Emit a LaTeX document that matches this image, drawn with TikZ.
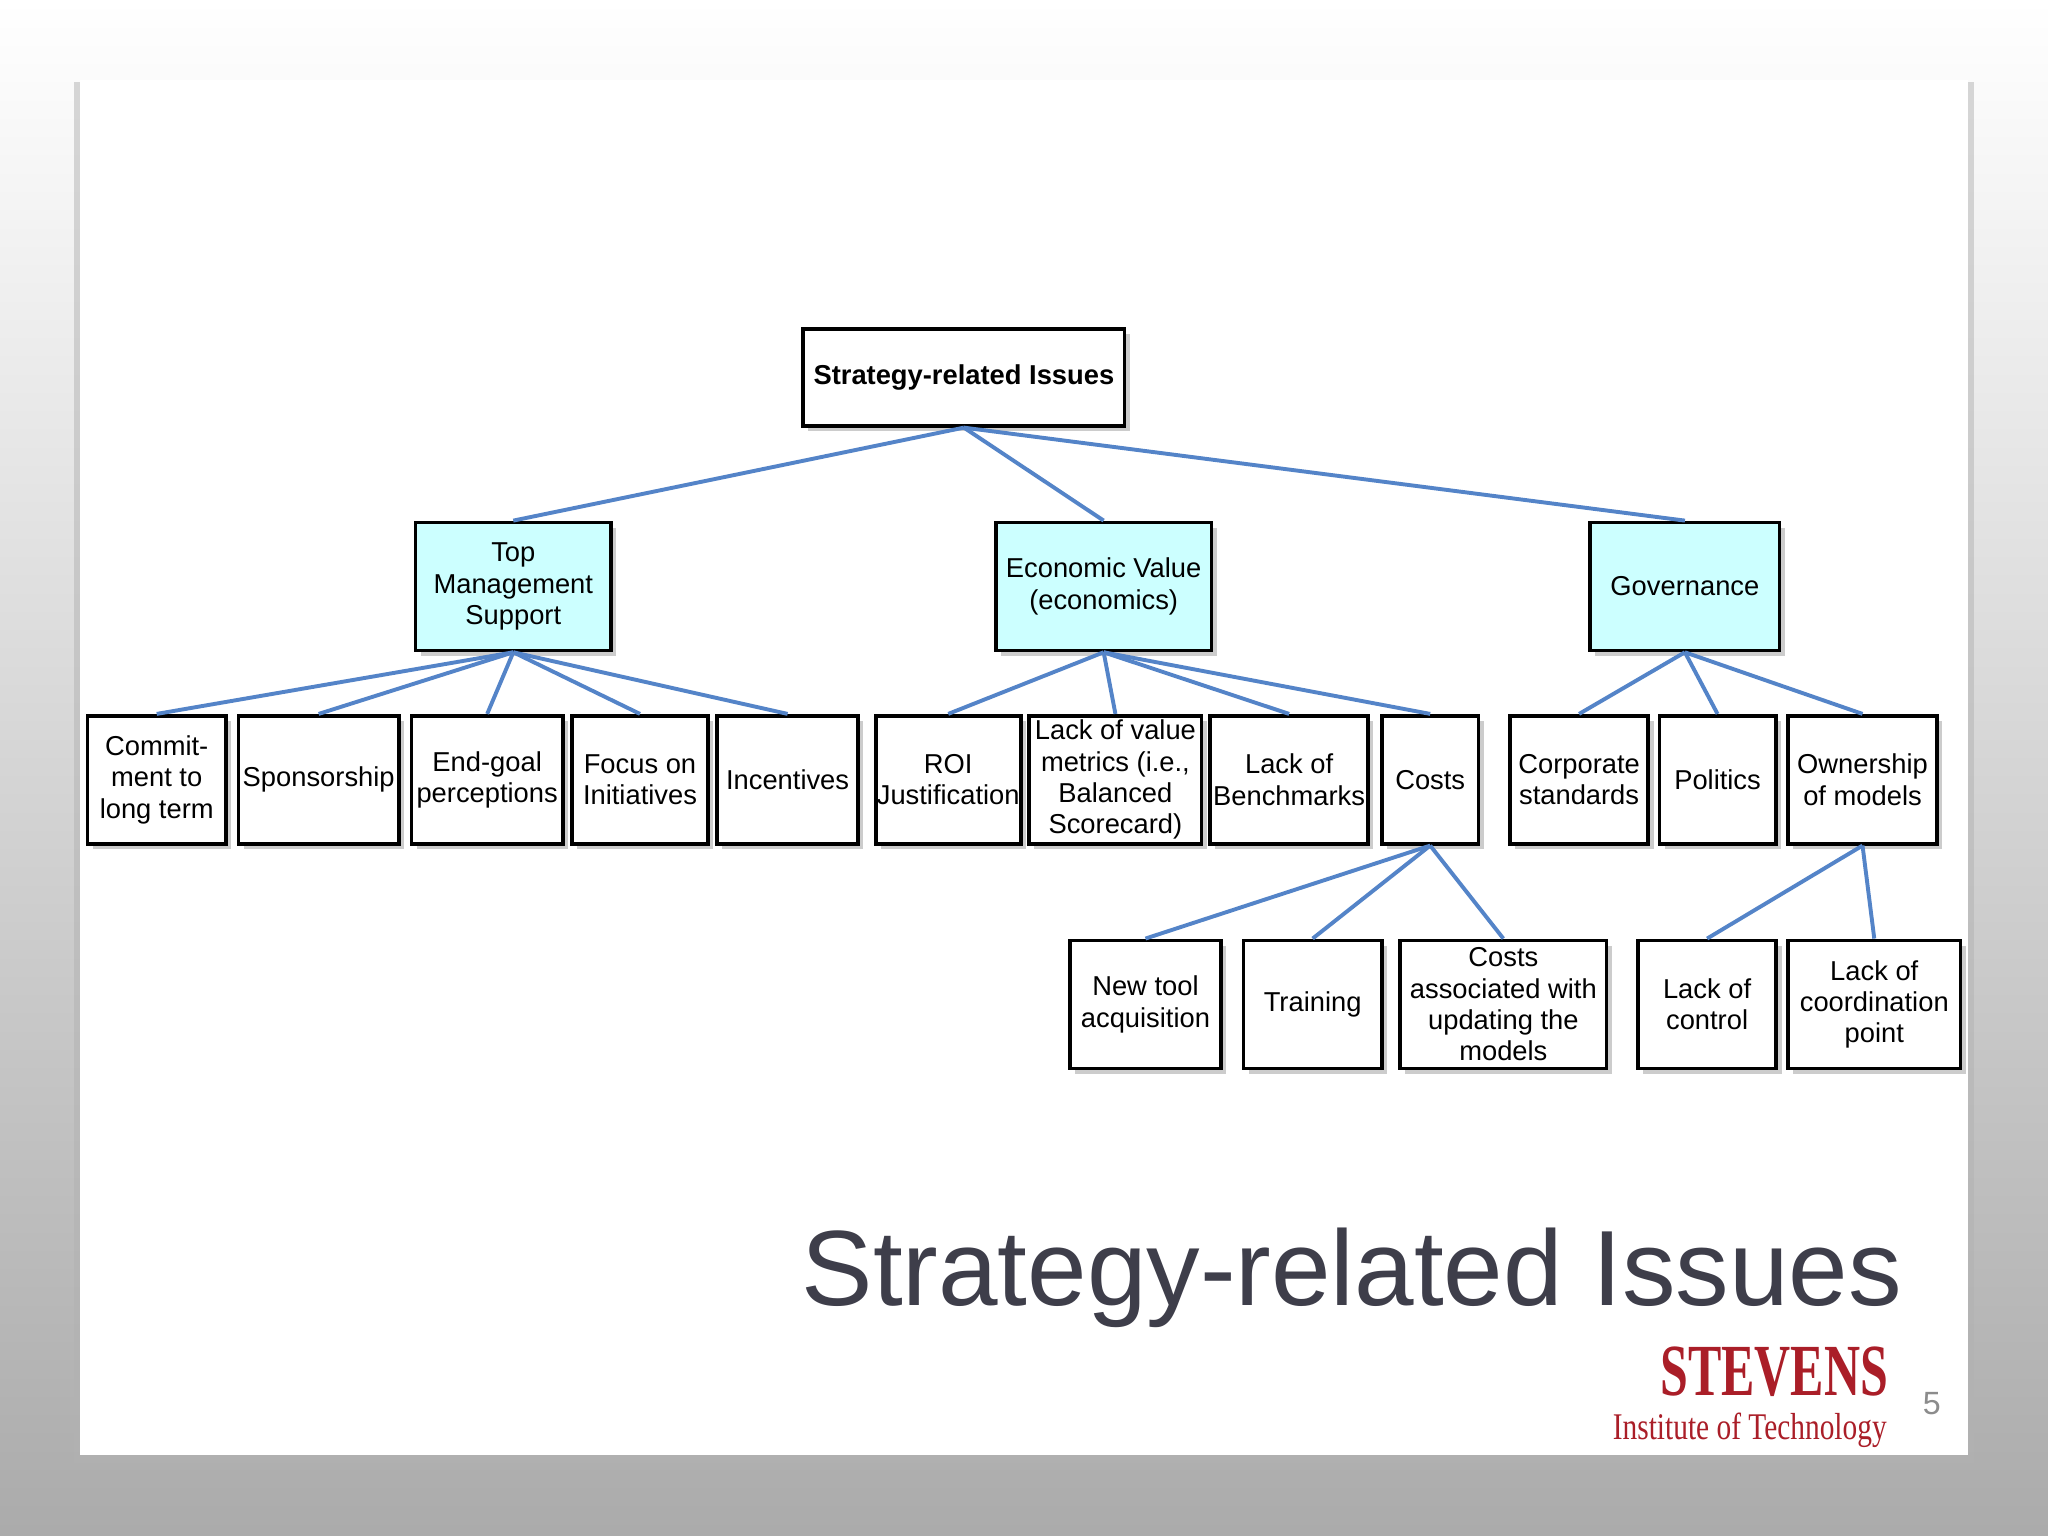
\documentclass[tikz,border=0pt]{standalone}
\usepackage{fontspec}
\setmainfont{Liberation Sans}
\newfontfamily\logofont{Liberation Serif}
\usetikzlibrary{shadows}
\definecolor{conn}{RGB}{84,132,200}
\definecolor{lcyan}{RGB}{204,255,255}
\definecolor{ttl}{RGB}{62,62,74}
\definecolor{stred}{RGB}{170,30,40}
\tikzset{
 bx/.style={draw=black,line width=0.8pt,fill=white,align=center,inner sep=0pt,
   font=\fontsize{5.95}{6.8}\selectfont,
   drop shadow={shadow xshift=0.04cm,shadow yshift=-0.04cm,opacity=0.4}},
 lv/.style={bx,fill=lcyan},
 cn/.style={conn,line width=0.85pt},
}
\newcommand{\bxn}[6]{\node[#1,minimum width=#4*0.01cm,minimum height=#5*0.01cm] (#2) at (#3) {#6};}
\begin{document}
\begin{tikzpicture}[x=0.01cm,y=-0.01cm]
\useasboundingbox (0,0) rectangle (1568,1176);
\shade[top color=white,bottom color=black!33] (0,0) rectangle (1568,1176);
\fill[black!30,opacity=0.5] (57,63) rectangle (1511,1120);
\fill[white] (61,61) rectangle (1507,1114);
% nodes
\bxn{bx}{root}{738,289}{246}{74}{\bfseries Strategy-related Issues}
\bxn{lv}{tm}{393,449}{150}{98}{Top\\Management\\Support}
\bxn{lv}{ev}{845,449}{165}{98}{Economic Value\\(economics)}
\bxn{lv}{gov}{1290,449}{145}{98}{Governance}
\bxn{bx}{a1}{120,597}{106}{98}{Commit-\\ment to\\long term}
\bxn{bx}{a2}{244,597}{123}{98}{Sponsorship}
\bxn{bx}{a3}{373,597}{116}{98}{End-goal\\perceptions}
\bxn{bx}{a4}{490,597}{104}{98}{Focus on\\Initiatives}
\bxn{bx}{a5}{603,597}{108}{98}{Incentives}
\bxn{bx}{b1}{726,597}{111}{98}{ROI\\Justification}
\bxn{bx}{b2}{854,597}{132}{98}{Lack of value\\metrics (i.e.,\\Balanced\\Scorecard)}
\bxn{bx}{b3}{987,597}{121}{98}{Lack of\\Benchmarks}
\bxn{bx}{b4}{1095,597}{74}{98}{Costs}
\bxn{bx}{c1}{1209,597}{106}{98}{Corporate\\standards}
\bxn{bx}{c2}{1315,597}{89}{98}{Politics}
\bxn{bx}{c3}{1426,597}{114}{98}{Ownership\\of models}
\bxn{bx}{d1}{877,769}{116}{98}{New tool\\acquisition}
\bxn{bx}{d2}{1005,769}{106}{98}{Training}
\bxn{bx}{d3}{1151,769}{158}{98}{Costs\\associated with\\updating the\\models}
\bxn{bx}{e1}{1307,769}{106}{98}{Lack of\\control}
\bxn{bx}{e2}{1435,769}{132}{98}{Lack of\\coordination\\point}
% connectors
\foreach \c in {tm,ev,gov} \draw[cn] (root.south) -- (\c.north);
\foreach \c in {a1,a2,a3,a4,a5} \draw[cn] (tm.south) -- (\c.north);
\foreach \c in {b1,b2,b3,b4} \draw[cn] (ev.south) -- (\c.north);
\foreach \c in {c1,c2,c3} \draw[cn] (gov.south) -- (\c.north);
\foreach \c in {d1,d2,d3} \draw[cn] (b4.south) -- (\c.north);
\foreach \c in {e1,e2} \draw[cn] (c3.south) -- (\c.north);
% title and logo
\node[anchor=east,text=ttl,font=\fontsize{23.3}{26}\selectfont,inner sep=0] (title) at (1457,978) {Strategy-related Issues};
\node[anchor=east,text=stred,font=\logofont\bfseries\fontsize{16}{16}\selectfont,inner sep=0,xscale=0.68] (logo) at (1446,1050) {STEVENS};
\node[anchor=east,text=stred,font=\logofont\fontsize{8.2}{8.5}\selectfont,inner sep=0,xscale=0.78] (inst) at (1445,1095) {Institute of Technology};
\node[text=black!45,font=\fontsize{7}{8}\selectfont,inner sep=0] (pg) at (1479,1075) {5};
\end{tikzpicture}
\end{document}
